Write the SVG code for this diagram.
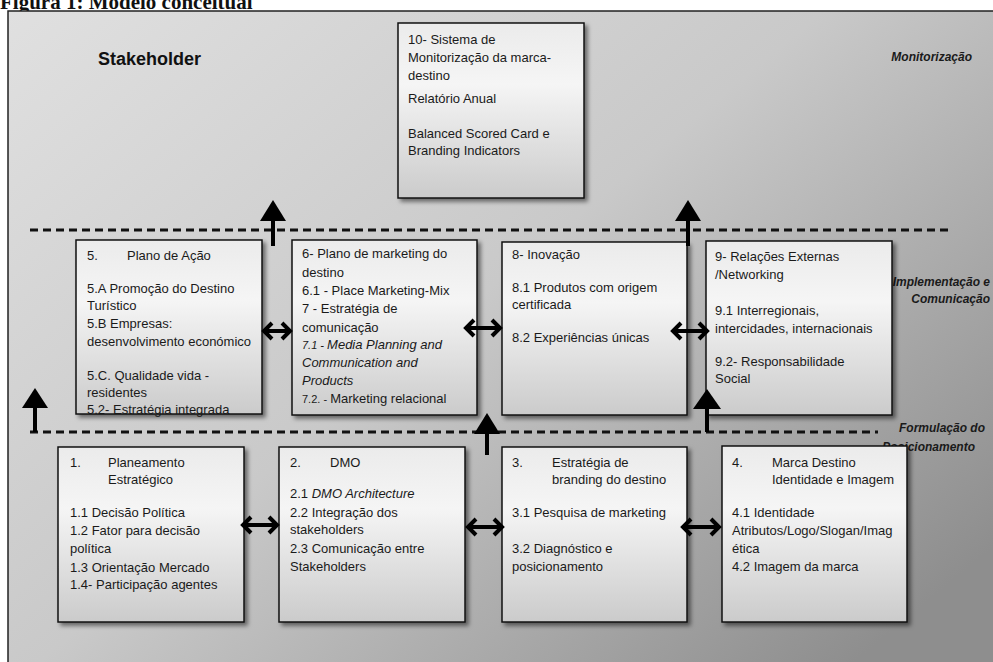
<svg xmlns="http://www.w3.org/2000/svg" width="993" height="662" viewBox="0 0 993 662">
<defs>
<linearGradient id="bg" x1="0" y1="0" x2="1" y2="0.8">
<stop offset="0" stop-color="#e0e0e0"/>
<stop offset="0.5" stop-color="#c9c9c9"/>
<stop offset="1" stop-color="#8e8e8e"/>
</linearGradient>
<linearGradient id="boxfill" x1="0" y1="0" x2="0" y2="1">
<stop offset="0" stop-color="#ebebeb"/>
<stop offset="0.35" stop-color="#f5f5f5"/>
<stop offset="1" stop-color="#cbcbcb"/>
</linearGradient>
<filter id="sh" x="-10%" y="-10%" width="125%" height="125%">
<feDropShadow dx="3" dy="3" stdDeviation="2" flood-color="#000" flood-opacity="0.5"/>
</filter>
</defs>
<style>
.box{fill:url(#boxfill);stroke:#111;stroke-width:1.5;filter:url(#sh)}
.t{font-family:"Liberation Sans",Arial,sans-serif;font-size:13px;fill:#1a1a1a}
.i{font-style:italic}
.lab{font-family:"Liberation Sans",Arial,sans-serif;font-size:12px;font-weight:bold;font-style:italic;fill:#1a1a1a}
.dash{stroke:#111;stroke-width:3;stroke-dasharray:8 5;fill:none}
.dbl{stroke:#000;stroke-width:4;fill:none;stroke-linejoin:miter}
.up{fill:#000}
.shaft{stroke:#000;stroke-width:4}
</style>
<rect x="0" y="0" width="993" height="662" fill="#ffffff"/>
<text x="0" y="9" font-family="'Liberation Serif',serif" font-size="21" font-weight="bold" fill="#111">Figura 1: Modelo conceitual</text>
<rect x="8" y="11" width="995" height="660" fill="url(#bg)" stroke="#222" stroke-width="1.5"/>

<text x="98" y="65" font-family="'Liberation Sans',Arial,sans-serif" font-size="18" font-weight="bold" fill="#111">Stakeholder</text>
<text class="lab" x="972" y="61" text-anchor="end">Monitorização</text>
<text class="lab" x="990" y="286" text-anchor="end">Implementação e</text>
<text class="lab" x="990" y="303" text-anchor="end">Comunicação</text>

<g id="separators">
<line class="dash" x1="30" y1="230" x2="952" y2="230"/>
<line class="dash" x1="30" y1="432" x2="878" y2="432"/>
</g>

<text class="lab" x="985" y="432" text-anchor="end">Formulação do</text>
<text class="lab" x="975" y="451" text-anchor="end">Posicionamento</text>

<g id="n10">
<rect class="box" x="398" y="23" width="186" height="175"/>
<text class="t" x="408" y="44">10- Sistema de</text>
<text class="t" x="408" y="62">Monitorização da marca-</text>
<text class="t" x="408" y="80">destino</text>
<text class="t" x="408" y="103">Relatório Anual</text>
<text class="t" x="408" y="138">Balanced Scored Card e</text>
<text class="t" x="408" y="155">Branding Indicators</text>
</g>

<g id="n5">
<rect class="box" x="76" y="240" width="186" height="174"/>
<text class="t" x="87" y="260">5.</text>
<text class="t" x="127" y="260">Plano de Ação</text>
<text class="t" x="87" y="293">5.A Promoção do Destino</text>
<text class="t" x="87" y="310">Turístico</text>
<text class="t" x="87" y="328">5.B Empresas:</text>
<text class="t" x="87" y="346">desenvolvimento económico</text>
<text class="t" x="87" y="380">5.C. Qualidade vida -</text>
<text class="t" x="87" y="397">residentes</text>
<text class="t" x="87" y="414">5.2- Estratégia integrada</text>
</g>

<g id="n6">
<rect class="box" x="292" y="240" width="185" height="175"/>
<text class="t" x="302" y="258">6- Plano de marketing do</text>
<text class="t" x="302" y="277">destino</text>
<text class="t" x="302" y="295">6.1 - Place Marketing-Mix</text>
<text class="t" x="302" y="313">7 - Estratégia de</text>
<text class="t" x="302" y="332">comunicação</text>
<text class="t i" x="302" y="349"><tspan font-size="11">7.1 - </tspan>Media Planning and</text>
<text class="t i" x="302" y="367">Communication and</text>
<text class="t i" x="302" y="385">Products</text>
<text class="t" x="302" y="403"><tspan font-size="11">7.2. - </tspan>Marketing relacional</text>
</g>

<g id="n8">
<rect class="box" x="502" y="242" width="185" height="173"/>
<text class="t" x="512" y="259">8- Inovação</text>
<text class="t" x="512" y="292">8.1 Produtos com origem</text>
<text class="t" x="512" y="309">certificada</text>
<text class="t" x="512" y="342">8.2 Experiências únicas</text>
</g>

<g id="n9">
<rect class="box" x="706" y="241" width="186" height="174"/>
<text class="t" x="715" y="261">9- Relações Externas</text>
<text class="t" x="715" y="279">/Networking</text>
<text class="t" x="715" y="315">9.1 Interregionais,</text>
<text class="t" x="715" y="333">intercidades, internacionais</text>
<text class="t" x="715" y="366">9.2- Responsabilidade</text>
<text class="t" x="715" y="383">Social</text>
</g>

<g id="n1">
<rect class="box" x="58" y="447" width="186" height="175"/>
<text class="t" x="70" y="467">1.</text>
<text class="t" x="108" y="467">Planeamento</text>
<text class="t" x="108" y="484">Estratégico</text>
<text class="t" x="70" y="517">1.1 Decisão Política</text>
<text class="t" x="70" y="535">1.2 Fator para decisão</text>
<text class="t" x="70" y="553">política</text>
<text class="t" x="70" y="572">1.3 Orientação Mercado</text>
<text class="t" x="70" y="589">1.4- Participação agentes</text>
</g>

<g id="n2">
<rect class="box" x="279" y="447" width="186" height="175"/>
<text class="t" x="290" y="467">2.</text>
<text class="t" x="330" y="467">DMO</text>
<text class="t" x="290" y="498">2.1 <tspan class="i">DMO Architecture</tspan></text>
<text class="t" x="290" y="517">2.2 Integração dos</text>
<text class="t" x="290" y="534">stakeholders</text>
<text class="t" x="290" y="553">2.3 Comunicação entre</text>
<text class="t" x="290" y="571">Stakeholders</text>
</g>

<g id="n3">
<rect class="box" x="502" y="447" width="185" height="175"/>
<text class="t" x="512" y="467">3.</text>
<text class="t" x="552" y="467">Estratégia de</text>
<text class="t" x="552" y="484">branding do destino</text>
<text class="t" x="512" y="517">3.1 Pesquisa de marketing</text>
<text class="t" x="512" y="553">3.2  Diagnóstico e</text>
<text class="t" x="512" y="571">posicionamento</text>
</g>

<g id="n4">
<rect class="box" x="722" y="446" width="185" height="176"/>
<text class="t" x="732" y="467">4.</text>
<text class="t" x="772" y="467">Marca Destino</text>
<text class="t" x="772" y="484">Identidade e Imagem</text>
<text class="t" x="732" y="517">4.1 Identidade</text>
<text class="t" x="732" y="535">Atributos/Logo/Slogan/Imag</text>
<text class="t" x="732" y="553">ética</text>
<text class="t" x="732" y="571">4.2 Imagem da marca</text>
</g>

<g id="connectors">
<path class="dbl" d="M263 331 H291 M272 323 L264 331 L272 339 M282 323 L290 331 L282 339"/>
<path class="dbl" d="M465 328 H501 M474 320 L466 328 L474 336 M492 320 L500 328 L492 336"/>
<path class="dbl" d="M672 331 H708 M681 323 L673 331 L681 339 M699 323 L707 331 L699 339"/>
<path class="dbl" d="M242 525 H278 M251 517 L243 525 L251 533 M269 517 L277 525 L269 533"/>
<path class="dbl" d="M467 527 H503 M476 519 L468 527 L476 535 M494 519 L502 527 L494 535"/>
<path class="dbl" d="M682 527 H720 M691 519 L683 527 L691 535 M711 519 L719 527 L711 535"/>
<line class="shaft" x1="273" y1="218" x2="273" y2="246"/>
<polygon class="up" points="273,200 260,221 286,221"/>
<line class="shaft" x1="688" y1="218" x2="688" y2="246"/>
<polygon class="up" points="688,200 675,221 701,221"/>
<line class="shaft" x1="35" y1="405" x2="35" y2="432"/>
<polygon class="up" points="35,388 22,408 48,408"/>
<line class="shaft" x1="487" y1="432" x2="487" y2="455"/>
<polygon class="up" points="487,413 474,434 500,434"/>
<line class="shaft" x1="707" y1="405" x2="707" y2="432"/>
<polygon class="up" points="707,389 693,409 721,409"/>
</g>
</svg>
